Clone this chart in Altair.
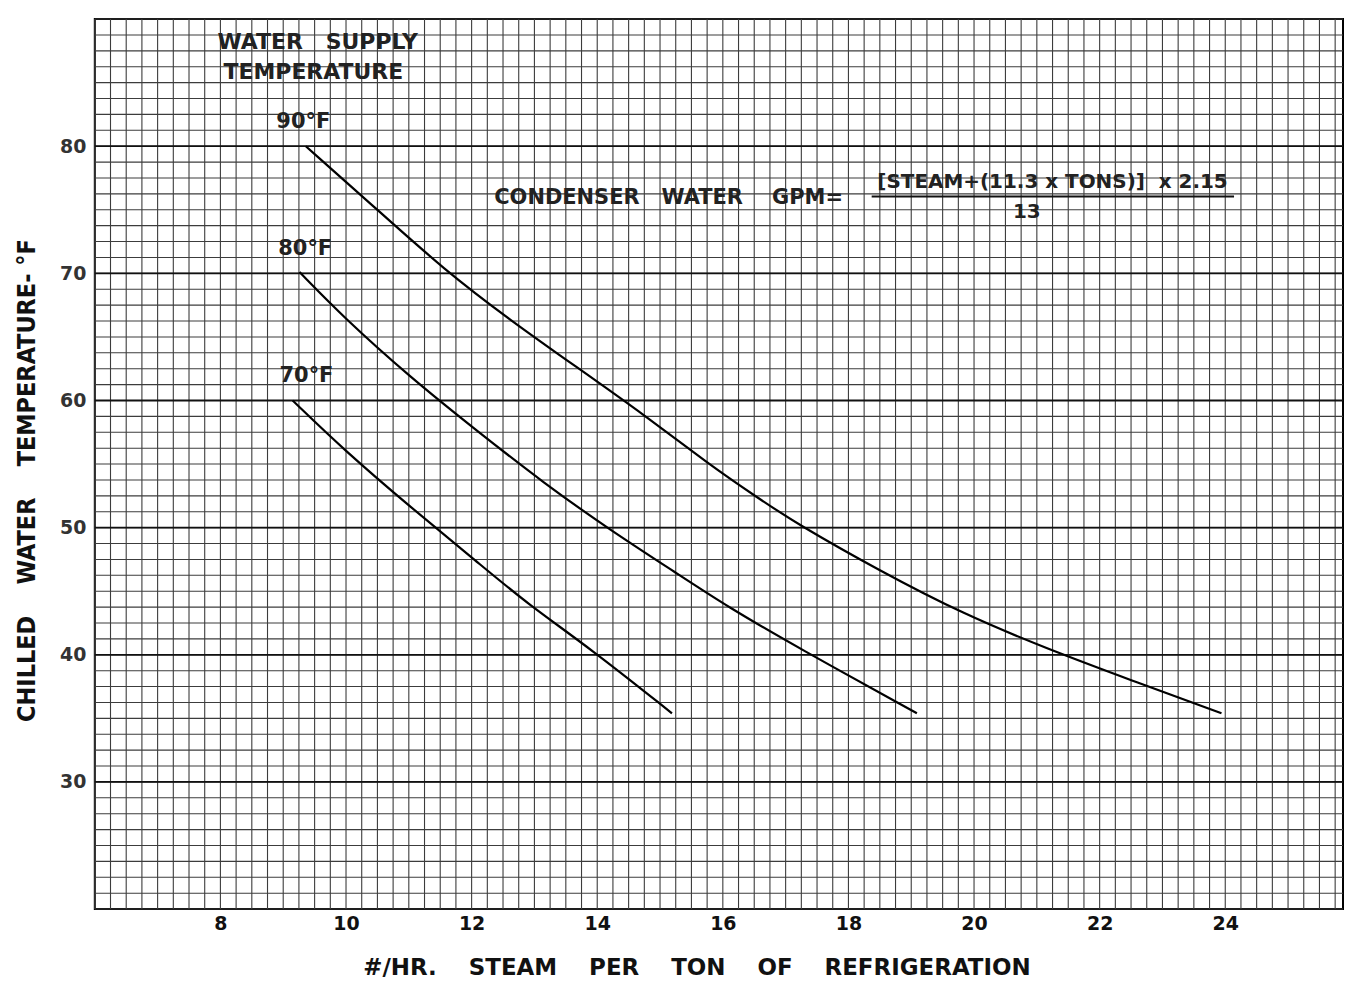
import altair as alt
import pandas as pd
import numpy as np

# ---- curve data ----
x_90 = [9.36, 10.5, 11.56, 12.62, 13.68, 14.74, 15.8, 16.54, 17.18, 18.5, 19.83, 21.15, 22.5, 23.94]
y_90 = [80.0, 75.0, 70.3, 66.3, 62.6, 58.9, 54.9, 52.4, 50.3, 46.6, 43.2, 40.5, 38.0, 35.4]

x_80 = [9.26, 9.97, 11.03, 12.09, 13.15, 14.21, 15.27, 16.07, 17.18, 19.09]
y_80 = [70.1, 66.5, 61.8, 57.6, 53.5, 49.8, 46.4, 43.8, 40.6, 35.4]

x_70 = [9.15, 9.97, 11.03, 12.09, 12.89, 13.89, 15.19]
y_70 = [60.0, 56.1, 51.6, 47.3, 44.0, 40.5, 35.4]

x_ticks = [8, 10, 12, 14, 16, 18, 20, 22, 24]
y_ticks = [30, 40, 50, 60, 70, 80]

X_DOMAIN = [6, 25.875]
Y_DOMAIN = [20, 90]

NB = "\u00a0"  # non-breaking space keeps the wide lettering gaps in SVG

# annotation texts (positions in data units)
label_text = ["90°F", "80°F", "70°F"]
label_x = [9.32, 9.35, 9.37]
label_y = [81.9, 71.9, 61.9]

head_text = ["WATER" + NB * 3 + "SUPPLY", "TEMPERATURE"]
head_x = [9.55, 9.48]
head_y = [88.2, 85.8]

formula_left = "CONDENSER" + NB * 3 + "WATER" + NB * 4 + "GPM="
formula_num = "[STEAM+(11.3 x TONS)]" + NB * 2 + "x 2.15"
formula_den = "13"

curves = pd.concat([
    pd.DataFrame({"x": x_90, "y": y_90, "s": "90", "o": range(len(x_90))}),
    pd.DataFrame({"x": x_80, "y": y_80, "s": "80", "o": range(len(x_80))}),
    pd.DataFrame({"x": x_70, "y": y_70, "s": "70", "o": range(len(x_70))}),
])

x_grid = pd.DataFrame({"x": np.arange(6, 25.876, 0.25)})
y_grid = pd.DataFrame({"y": np.arange(20, 90.01, 1.25)})
y_major = pd.DataFrame({"y": y_ticks})

xs = alt.Scale(domain=X_DOMAIN, nice=False, zero=False)
ys = alt.Scale(domain=Y_DOMAIN, nice=False, zero=False)

LETTER = "DejaVu Sans, sans-serif"
COND = "DejaVu Sans Condensed, Liberation Sans Narrow, sans-serif"
AXFONT = "DejaVu Sans, sans-serif"

x_title = (NB * 3 + " ").join(["#/HR.", "STEAM", "PER", "TON", "OF", "REFRIGERATION"])
y_title = (NB * 3 + " ").join(["CHILLED", "WATER", "TEMPERATURE-"]) + " °F"

ax_x = alt.Axis(
    values=x_ticks, grid=False, ticks=False, domain=False,
    labelFont=AXFONT, labelFontSize=19, labelFontWeight="bold", labelPadding=5, labelColor="#111",
    title=x_title,
    titleFont=AXFONT, titleFontSize=23, titleFontWeight="bold", titleColor="#111",
    titleX=603, titleY=59, titleAnchor="middle", titleAlign="center", titleBaseline="middle")
ax_y = alt.Axis(
    values=y_ticks, grid=False, ticks=False, domain=False,
    labelFont=AXFONT, labelFontSize=19, labelFontWeight="bold", labelPadding=9, labelColor="#333",
    title=y_title,
    titleFont=COND, titleFontSize=25, titleFontWeight="bold", titleColor="#111",
    titleX=-68, titleY=462, titleAngle=-90, titleAlign="center", titleBaseline="middle")

X = lambda f="x": alt.X(f + ":Q", scale=xs, axis=ax_x)
Y = lambda f="y": alt.Y(f + ":Q", scale=ys, axis=ax_y)

vgrid = alt.Chart(x_grid).mark_rule(color="#3c3c3c", strokeWidth=1.1).encode(x=X())
hgrid = alt.Chart(y_grid).mark_rule(color="#3c3c3c", strokeWidth=1.1).encode(y=Y())
hmajor = alt.Chart(y_major).mark_rule(color="#111", strokeWidth=1.8).encode(y=Y())

lines = alt.Chart(curves).mark_line(color="black", strokeWidth=2.2, interpolate="basis").encode(
    x=X(), y=Y(), detail="s:N", order="o:Q")

labels = alt.Chart(pd.DataFrame({"t": label_text, "x": label_x, "y": label_y})).mark_text(
    font=LETTER, fontSize=21, fontWeight="bold", color="#222", align="center", baseline="middle").encode(
    x=X(), y=Y(), text="t:N")

heads = alt.Chart(pd.DataFrame({"t": head_text, "x": head_x, "y": head_y})).mark_text(
    font=LETTER, fontSize=22, fontWeight="bold", color="#222", align="center", baseline="middle").encode(
    x=X(), y=Y(), text="t:N")

form_left = alt.Chart(pd.DataFrame({"t": [formula_left], "x": [12.36], "y": [75.9]})).mark_text(
    font=LETTER, fontSize=21, fontWeight="bold", color="#222", align="left", baseline="middle").encode(
    x=X(), y=Y(), text="t:N")
form_rest = alt.Chart(pd.DataFrame({"t": [formula_num, formula_den], "x": [21.25, 20.84], "y": [77.2, 74.8]})).mark_text(
    font=LETTER, fontSize=20, fontWeight="bold", color="#222", align="center", baseline="middle").encode(
    x=X(), y=Y(), text="t:N")

frac = alt.Chart(pd.DataFrame({"x": [18.37], "x2": [24.14], "y": [76.05]})).mark_rule(
    color="#111", strokeWidth=2).encode(x=X(), x2="x2:Q", y=Y())

chart = alt.layer(vgrid, hgrid, hmajor, lines, labels, heads, form_left, form_rest, frac).properties(
    width=1251, height=892,
    padding={"left": 87, "top": 10, "right": 2, "bottom": 70},
    autosize=alt.AutoSizeParams(type="none"),
    background="white",
).configure_view(stroke="black", strokeWidth=2)

chart.save("out.html", embed_options={"renderer": "svg", "actions": False})
